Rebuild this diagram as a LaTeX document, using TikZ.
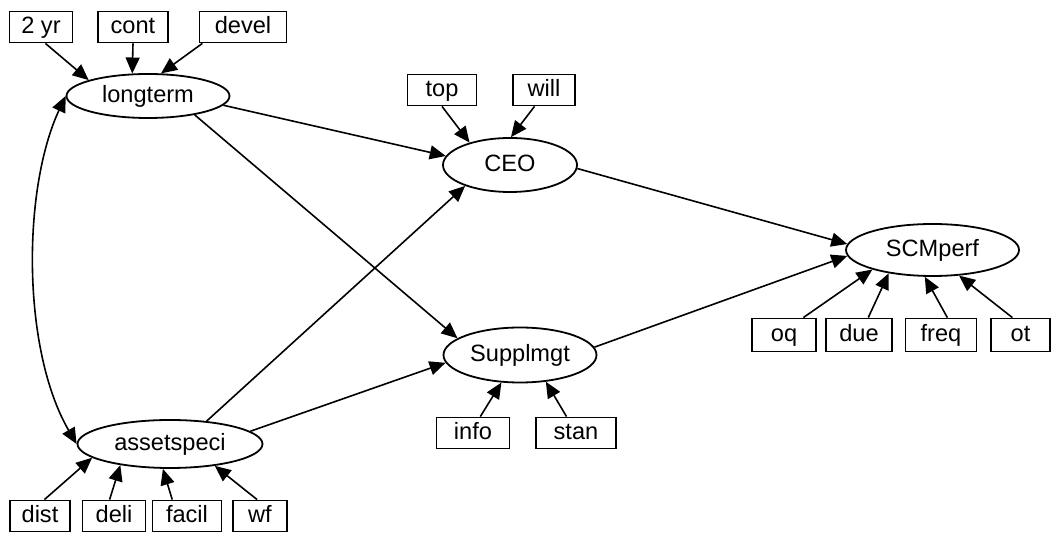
\documentclass[tikz,border=0pt]{standalone}
\usepackage{fontspec}
\setmainfont{Liberation Sans}
\usetikzlibrary{arrows.meta,shapes.geometric}
\begin{document}
\begin{tikzpicture}[x=0.5pt,y=-0.5pt,
  lbl/.style={font=\fontsize{11.8}{14}\selectfont, text height=8.6pt, text depth=2.4pt},
  box/.style={lbl, draw, line width=0.9pt, minimum height=15.5pt, inner sep=0pt},
  ell/.style={lbl, draw, ellipse, line width=0.9pt, inner sep=0pt},
  arr/.style={line width=0.8pt, -{Triangle[length=8pt,width=7pt]}},
  biarr/.style={line width=0.8pt, {Triangle[length=8pt,width=7pt]}-{Triangle[length=8pt,width=7pt]}}
]
\useasboundingbox (0,0) rectangle (1051,533);
% boxes
\node[box, minimum width=31.5pt] (yr) at (41,27) {2 yr};
\node[box, minimum width=35pt] (cont) at (133,27) {cont};
\node[box, minimum width=43.5pt] (devel) at (243,27) {devel};
\node[box, minimum width=34.5pt] (top) at (442,90) {top};
\node[box, minimum width=31pt] (will) at (544,90) {will};
\node[box, minimum width=36.5pt] (info) at (473,433) {info};
\node[box, minimum width=40pt] (stan) at (576,433) {stan};
\node[box, minimum width=30pt] (dist) at (40,516) {dist};
\node[box, minimum width=31.5pt] (deli) at (114,516) {deli};
\node[box, minimum width=34.5pt] (facil) at (187,516) {facil};
\node[box, minimum width=27pt] (wf) at (260,516) {wf};
\node[box, minimum width=32pt, minimum height=16.5pt] (oq) at (784,335) {oq};
\node[box, minimum width=33pt, minimum height=16.5pt] (due) at (859,335) {due};
\node[box, minimum width=35.5pt, minimum height=16.5pt] (freq) at (941,335) {freq};
\node[box, minimum width=29.5pt, minimum height=16.5pt] (ot) at (1020.5,335) {ot};
% ellipses
\node[ell, minimum width=81.5pt, minimum height=22pt] (longterm) at (148,96) {longterm};
\node[ell, minimum width=67pt, minimum height=27pt] (CEO) at (510,165) {CEO};
\node[ell, minimum width=86.5pt, minimum height=26pt] (SCM) at (932.5,250) {SCMperf};
\node[ell, minimum width=76.5pt, minimum height=27.5pt] (Supp) at (520,355) {Supplmgt};
\node[ell, minimum width=92.5pt, minimum height=24pt] (asset) at (170,444) {assetspeci};
% connectors
\draw[arr] (yr.-75) -- (longterm.165);
\draw[arr] (cont.south) -- (longterm.125);
\draw[arr] (devel.202) -- (longterm.60);
\draw[arr] (top.south) -- (CEO.151);
\draw[arr] (will.-120) -- (CEO.88);
\draw[arr] (longterm.-7) -- (CEO.172);
\draw[arr] (longterm.-22) -- (Supp.165);
\draw[arr] (asset.32) -- (CEO.-155);
\draw[arr] (asset.9) -- (Supp.186);
\draw[arr] (CEO.-3) -- (SCM.176);
\draw[arr] (Supp.6) -- (SCM.184);
\draw[biarr] (longterm.west) .. controls (22,190) and (22,350) .. (asset.west);
\draw[arr] (info.66) -- (Supp.-124);
\draw[arr] (stan.120) -- (Supp.-46);
\draw[arr] (dist.75) -- (asset.-170);
\draw[arr] (deli.105) -- (asset.-157);
\draw[arr] (facil.132) -- (asset.-106);
\draw[arr] (wf.100) -- (asset.-26);
\draw[arr] (oq.42) -- (SCM.-162);
\draw[arr] (due.62) -- (SCM.-152);
\draw[arr] (freq.70) -- (SCM.-106);
\draw[arr] (ot.115) -- (SCM.-44);
\end{tikzpicture}
\end{document}
